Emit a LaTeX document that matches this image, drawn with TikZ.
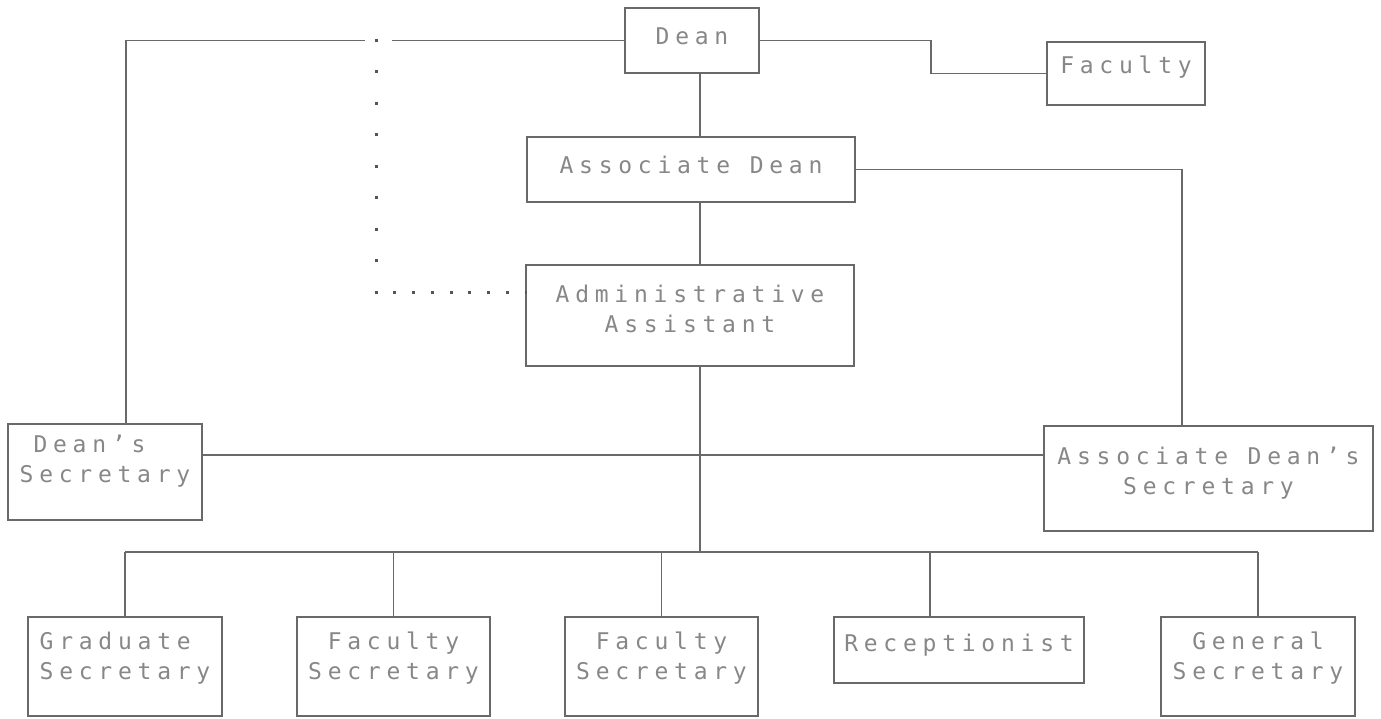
\documentclass[tikz,border=0pt]{standalone}
\usepackage{fontspec}
\newfontfamily\dotfont[LetterSpace=25]{DejaVu Sans Mono}
\usetikzlibrary{calc}
\definecolor{inkline}{RGB}{105,105,105}
\definecolor{inktext}{RGB}{135,135,135}
\definecolor{inkdot}{RGB}{85,85,85}
\begin{document}
\begin{tikzpicture}[x=1pt,y=-1pt,
  box/.style={draw=inkline, line width=1.3pt, inner sep=0pt, rectangle},
  lbl/.style={text=inktext, font=\dotfont\fontsize{23}{30}\selectfont, inner sep=0pt, align=center},
  link/.style={draw=inkline, line width=1.3pt},
  dotlink/.style={draw=inkdot, line width=3pt, dash pattern=on 3pt off 28.5pt}]
\useasboundingbox (0,0) rectangle (1381,719);

% boxes
\node[box, minimum width=134pt, minimum height=65pt]  (dean)    at (692,40.5)   {};
\node[box, minimum width=158pt, minimum height=63pt]  (faculty) at (1126,73.5)  {};
\node[box, minimum width=328pt, minimum height=65pt]  (adean)   at (691,169.5)  {};
\node[box, minimum width=328pt, minimum height=101pt] (admin)   at (690,315.5)  {};
\node[box, minimum width=194pt, minimum height=96pt]  (dsec)    at (105,472)    {};
\node[box, minimum width=329pt, minimum height=105pt] (adsec)   at (1208.5,478.5) {};
\node[box, minimum width=194pt, minimum height=99pt]  (grad)    at (125,666.5)  {};
\node[box, minimum width=193pt, minimum height=99pt]  (fsecA)   at (393.5,666.5) {};
\node[box, minimum width=193pt, minimum height=99pt]  (fsecB)   at (661.5,666.5) {};
\node[box, minimum width=250pt, minimum height=66pt]  (recep)   at (959,650)    {};
\node[box, minimum width=194pt, minimum height=99pt]  (gen)     at (1258,666.5) {};

% labels
\node[lbl] (deanT)    at ([yshift=4pt]dean.center)    {Dean};
\node[lbl] (facultyT) at ([yshift=6pt]faculty.center) {Faculty};
\node[lbl] (adeanT)   at ([yshift=5pt]adean.center)   {Associate Dean};
\node[lbl] (adminT)   at ([yshift=7pt]admin.center)   {Administrative\\Assistant};
\node[lbl, align=left] (dsecT) at ([yshift=11pt]dsec.center) {\hphantom{D}Dean’s\\Secretary};
\node[lbl] (adsecT)   at ([yshift=5pt]adsec.center)   {Associate Dean’s\\Secretary};
\node[lbl, align=left] (gradT) at ([yshift=8pt]grad.center) {Graduate\\Secretary};
\node[lbl] (fsecAT)   at ([yshift=8pt]fsecA.center)   {Faculty\\Secretary};
\node[lbl] (fsecBT)   at ([yshift=8pt]fsecB.center)   {Faculty\\Secretary};
\node[lbl] (recepT)   at ([yshift=5pt]recep.center)   {Receptionist};
\node[lbl] (genT)     at ([yshift=8pt]gen.center)     {General\\Secretary};

% reference points for the connector runs
\coordinate (spine)     at (700,0);
\coordinate (bus)       at (0,552);
\coordinate (secrow)    at (0,455);
\coordinate (facStep)   at (931,0);
\coordinate (recTap)    at (930,0);
\coordinate (dotTop)    at (376,40.5);
\coordinate (dotCorner) at (376,293);

% solid reporting lines
\draw[link] (dean.west) -- ([xshift=16pt]dotTop);
\draw[link] ([xshift=-11pt]dotTop) -| ([xshift=21pt]dsec.north);
\draw[link] (dean.east) -| (facStep |- faculty.west) -- (faculty.west);
\draw[link] (spine |- dean.south) -- (spine |- adean.north);
\draw[link] (spine |- adean.south) -- (spine |- admin.north);
\draw[link] (adean.east) -| ([xshift=-26.5pt]adsec.north);
\draw[link] (spine |- admin.south) -- (spine |- bus);
\draw[link] (dsec.east |- secrow) -- (adsec.west |- secrow);
\draw[link] (grad.north |- bus) -- (gen.north |- bus);
\draw[link] (grad.north |- bus) -- (grad.north);
\draw[link] (fsecA.north |- bus) -- (fsecA.north);
\draw[link] (fsecB.north |- bus) -- (fsecB.north);
\draw[link] (recTap |- bus) -- (recTap |- recep.north);
\draw[link] (gen.north |- bus) -- (gen.north);

% dotted advisory line to the administrative assistant
\draw[dotlink] ([yshift=1.5pt]dotTop) -- ([yshift=-1.5pt]dotCorner);
\draw[dotlink, dash pattern=on 3pt off 15.75pt] ([xshift=-1.5pt]dotCorner) -- ([xshift=1.5pt]dotCorner -| admin.west);
\end{tikzpicture}
\end{document}
